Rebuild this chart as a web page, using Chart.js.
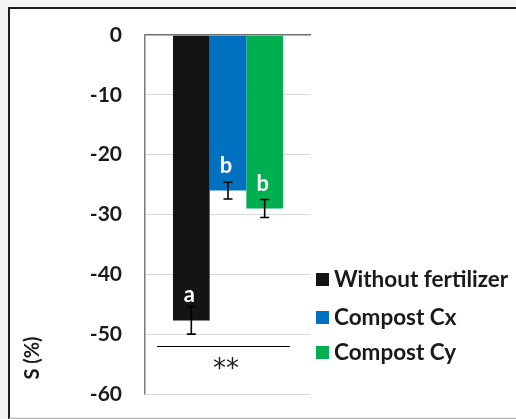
<!DOCTYPE html>
<html>
<head>
<meta charset="utf-8">
<style>
  html, body { margin: 0; padding: 0; background: #ffffff; }
  #wrap { position: relative; width: 516px; height: 419px; }
  canvas { display: block; }
</style>
<script src="https://cdn.jsdelivr.net/npm/chart.js@4/dist/chart.umd.min.js"></script>
</head>
<body>
<div id="wrap"><canvas id="chart" width="516" height="419"></canvas></div>
<script>
// Treatments and their mean S (%) with standard errors
const seriesNames = ['Without fertilizer', 'Compost Cx', 'Compost Cy'];
const seriesValues = [-47.7, -26.0, -29.0];
const seriesErrors = [2.3, 1.4, 1.5];
const groupLetters = ['a', 'b', 'b'];
const seriesColors = ['#141414', '#0070c0', '#00b050'];
const yTicks = [0, -10, -20, -30, -40, -50, -60];
const significanceLevel = -52;
const significanceMark = '**';
const axisTitle = 'S (%)';

const FONT = 'Lato, "Open Sans", sans-serif';

const datasets = seriesNames.map((name, i) => ({
  label: name,
  data: [seriesValues[i]],
  backgroundColor: seriesColors[i],
  borderWidth: 0,
  categoryPercentage: 0.663,
  barPercentage: 1.0
}));

// Frame around the figure
const framePlugin = {
  id: 'frame',
  beforeDraw(chart) {
    const c = chart.ctx;
    c.save();
    c.fillStyle = '#f3f3f3';
    c.fillRect(0, 0, chart.width, 7);
    c.fillRect(0, 0, 8, chart.height);
    c.fillStyle = '#ffffff';
    c.fillRect(8, 7, chart.width - 8, chart.height - 7);
    c.strokeStyle = '#1e1e1e';
    c.lineWidth = 2;
    c.beginPath();
    c.moveTo(9, chart.height);
    c.lineTo(9, 8);
    c.lineTo(chart.width, 8);
    c.stroke();
    c.strokeStyle = '#b0b0b0';
    c.lineWidth = 1.5;
    c.beginPath();
    c.moveTo(9, 418.5);
    c.lineTo(chart.width, 418.5);
    c.stroke();
    c.restore();
  }
};

// Error bars, letters, significance bracket, axis title and legend
const annotatePlugin = {
  id: 'annotate',
  afterDatasetsDraw(chart) {
    const c = chart.ctx;
    const y = chart.scales.y;
    const area = chart.chartArea;
    c.save();

    chart.data.datasets.forEach((ds, i) => {
      const bar = chart.getDatasetMeta(i).data[0];
      const x = bar.x;
      const v = seriesValues[i];
      const e = seriesErrors[i];
      const yHi = y.getPixelForValue(v + e);
      const yLo = y.getPixelForValue(v - e);
      c.strokeStyle = '#000000';
      c.lineWidth = 1.6;
      c.beginPath();
      c.moveTo(x, yHi); c.lineTo(x, yLo);
      c.moveTo(x - 4.5, yHi); c.lineTo(x + 4.5, yHi);
      c.moveTo(x - 4.5, yLo); c.lineTo(x + 4.5, yLo);
      c.stroke();

      c.fillStyle = '#ffffff';
      c.font = 'bold 22px ' + FONT;
      c.textAlign = 'center';
      c.textBaseline = 'alphabetic';
      c.fillText(groupLetters[i], x - 2, bar.y - 18);
    });

    // significance bracket
    const ys = Math.round(y.getPixelForValue(significanceLevel)) + 0.5;
    c.strokeStyle = '#000000';
    c.lineWidth = 1.2;
    c.beginPath();
    c.moveTo(area.left + 12, ys);
    c.lineTo(area.right - 21, ys);
    c.stroke();
    c.fillStyle = '#222222';
    c.font = '26px "DejaVu Sans", sans-serif';
    c.textAlign = 'center';
    c.textBaseline = 'middle';
    c.fillText(significanceMark, 226, ys + 24);

    // axis title
    c.save();
    c.translate(33, 358);
    c.rotate(-Math.PI / 2);
    c.font = 'bold 20px ' + FONT;
    c.fillStyle = '#1a1a1a';
    c.textAlign = 'center';
    c.textBaseline = 'middle';
    c.fillText(axisTitle, 0, 0);
    c.restore();

    // legend
    const rows = [279, 317, 352];
    seriesNames.forEach((name, i) => {
      c.fillStyle = seriesColors[i];
      c.fillRect(316, rows[i] - 6, 13, 13);
      c.fillStyle = '#1a1a1a';
      c.font = 'bold 22.5px ' + FONT;
      c.textAlign = 'left';
      c.textBaseline = 'middle';
      c.fillText(name, 334, rows[i] + 1);
    });

    c.restore();
  }
};

new Chart(document.getElementById('chart'), {
  type: 'bar',
  data: { labels: [''], datasets },
  options: {
    responsive: false,
    animation: false,
    layout: { padding: { left: 0, right: 205, top: 35, bottom: 25 } },
    plugins: { legend: { display: false }, tooltip: { enabled: false } },
    scales: {
      x: {
        display: false,
        offset: true
      },
      y: {
        min: -60,
        max: 0,
        afterFit(scale) { scale.width = 145; },
        afterBuildTicks(scale) { scale.ticks = yTicks.map(v => ({ value: v })); },
        border: { display: true, color: '#7a7a7a', width: 1.5 },
        grid: {
          drawTicks: true,
          tickLength: 23,
          tickColor: 'rgba(0,0,0,0)',
          color: ctx => (ctx.tick && ctx.tick.value === 0) ? '#6e6e6e' : '#d9d9d9',
          lineWidth: ctx => (ctx.tick && ctx.tick.value === 0) ? 1.5 : 1
        },
        ticks: {
          padding: 0,
          color: '#1a1a1a',
          font: { family: FONT, size: 21, weight: 'bold' }
        }
      }
    }
  },
  plugins: [framePlugin, annotatePlugin]
});
</script>
</body>
</html>
